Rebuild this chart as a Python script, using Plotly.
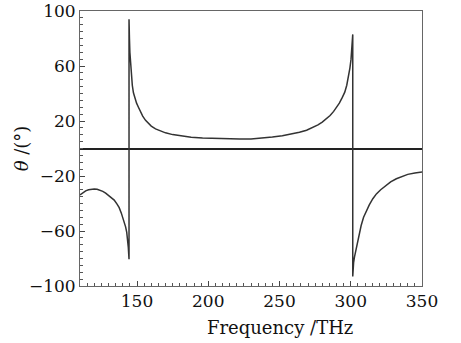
import plotly.graph_objects as go

freq = [110, 112, 114, 116, 118, 120, 122, 124, 126, 128, 130, 132, 134, 136,
        137.5, 139, 140, 141, 142, 142.8, 143.4, 143.9, 144.4,
        144.4, 144.5, 144.7, 145, 145.4, 146, 146.7, 147.5, 148.5, 149.7, 151,
        152.5, 154, 156, 158, 160, 163, 166, 170, 175, 180, 188, 196, 205, 215,
        222, 230, 238, 245, 252, 258, 264, 269, 273, 277, 280, 283, 285.5, 288,
        290, 292, 294, 295.8, 297.2, 298.4, 299.4, 300.2, 300.8, 301.2, 301.4,
        301.4, 301.6, 302, 302.6, 303.4, 304.2, 305, 306, 307.3, 309, 311, 313,
        315.5, 318, 321, 324.5, 328, 332, 336, 340, 345, 350]
theta = [-33.8, -32, -30.8, -30, -29.6, -29.5, -29.7, -30.3, -31.2, -32.5, -34,
         -35.5, -37.5, -40.5, -43, -47, -50, -53, -57, -61, -66, -72, -80.5,
         94, 88, 80, 70, 62, 53, 46, 40.5, 36, 33, 30,
         26.5, 23.5, 20.5, 18, 16.3, 14.3, 12.8, 11.4, 10.1, 9.2, 8.2, 7.7, 7.3, 7.0,
         6.9, 7.0, 7.5, 8.3, 9.2, 10.3, 11.8, 13.3, 15, 17.2, 19.2, 21.5, 24, 27,
         30, 33, 37, 41, 46, 52, 58.5, 65, 72, 78, 83,
         -93, -88, -83, -79, -75, -72, -66, -61.5, -56, -50, -45, -41,
         -36.5, -33, -30, -27, -24.3, -22, -20.2, -18.8, -17.8, -17.1]

x_range = [110, 350]
y_range = [-100, 100]
x_title = "Frequency /THz"
y_title = "<i>θ</i> /(°)"

font_family = "DejaVu Serif"

fig = go.Figure()
fig.add_trace(go.Scatter(x=freq, y=theta, mode="lines",
                         line=dict(color="#333333", width=1.5),
                         showlegend=False, hoverinfo="skip"))

fig.update_layout(
    width=461, height=343,
    margin=dict(l=80, r=39, t=11, b=57),
    paper_bgcolor="white", plot_bgcolor="white",
    font=dict(family=font_family, size=17, color="#111111"),
)
fig.update_xaxes(
    range=x_range, tickmode="linear", tick0=150, dtick=50,
    ticks="inside", ticklen=5, tickcolor="#444444", tickwidth=1,
    minor=dict(ticks="inside", ticklen=3, dtick=5, tickcolor="#555555", tickwidth=1),
    showline=True, linecolor="#666666", linewidth=1, mirror=True,
    showgrid=False, zeroline=False, automargin=False,
)
fig.update_yaxes(
    range=y_range, tickmode="linear", tick0=-100, dtick=40,
    ticks="inside", ticklen=5, tickcolor="#444444", tickwidth=1,
    minor=dict(ticks="inside", ticklen=3, dtick=5, tickcolor="#555555", tickwidth=1),
    showline=True, linecolor="#666666", linewidth=1, mirror=True,
    showgrid=False, zeroline=True, zerolinecolor="#222222", zerolinewidth=1.5,
    tickformat="d", automargin=False,
)
fig.add_annotation(text=x_title, xref="paper", yref="paper", x=0.585, y=-0.15,
                   xanchor="center", yanchor="middle", showarrow=False,
                   font=dict(size=18))
fig.add_annotation(text=y_title, xref="paper", yref="paper", x=-0.17, y=0.5,
                   xanchor="center", yanchor="middle", showarrow=False,
                   textangle=-90, font=dict(size=18))

fig.write_html("out.html")
